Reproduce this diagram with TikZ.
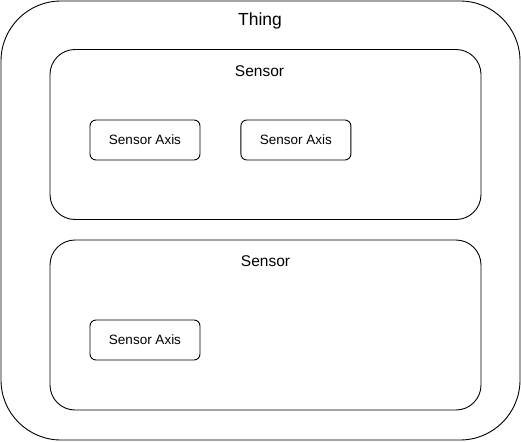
\documentclass[tikz,border=0pt]{standalone}
\usepackage{fontspec}
\setmainfont{Liberation Sans}
\usetikzlibrary{positioning}
\tikzset{
    thingbox/.style={rectangle, draw=black, line width=0.9pt, rounded corners=60pt, minimum width=519pt, minimum height=439pt, inner sep=0pt},
    sensorbox/.style={rectangle, draw=black, line width=0.9pt, rounded corners=25pt, minimum width=431pt, minimum height=170pt, inner sep=0pt},
    axisbox/.style={rectangle, draw=black, line width=0.9pt, rounded corners=6pt, minimum width=110pt, minimum height=40pt, inner sep=0pt, font=\fontsize{13.5pt}{16pt}\selectfont},
    lbl/.style={inner sep=0pt, anchor=center},
}

\begin{document}
\begin{tikzpicture}[x=1pt, y=-1pt]
            \useasboundingbox (0,0) rectangle (521,441);
            \node [thingbox] (thing) at (260.5,220.5) {};
            \node [lbl, font=\fontsize{17.5pt}{20pt}\selectfont] (thinglbl) at (260,21) {Thing};
            \node [sensorbox] (s1) at (265.5,134.5) {};
            \node [lbl, font=\fontsize{15.5pt}{18pt}\selectfont] (s1lbl) at (259.5,71) {Sensor};
            \node [axisbox] (a1) at (145,140) {Sensor Axis};
            \node [axisbox] (a2) [right = 40pt of a1] {Sensor Axis};
            \node [sensorbox] (s2) at (265.5,325) {};
            \node [lbl, font=\fontsize{15.5pt}{18pt}\selectfont] (s2lbl) at (265.5,261) {Sensor};
            \node [axisbox] (a3) at (145,340) {Sensor Axis};
        \end{tikzpicture}
\end{document}
